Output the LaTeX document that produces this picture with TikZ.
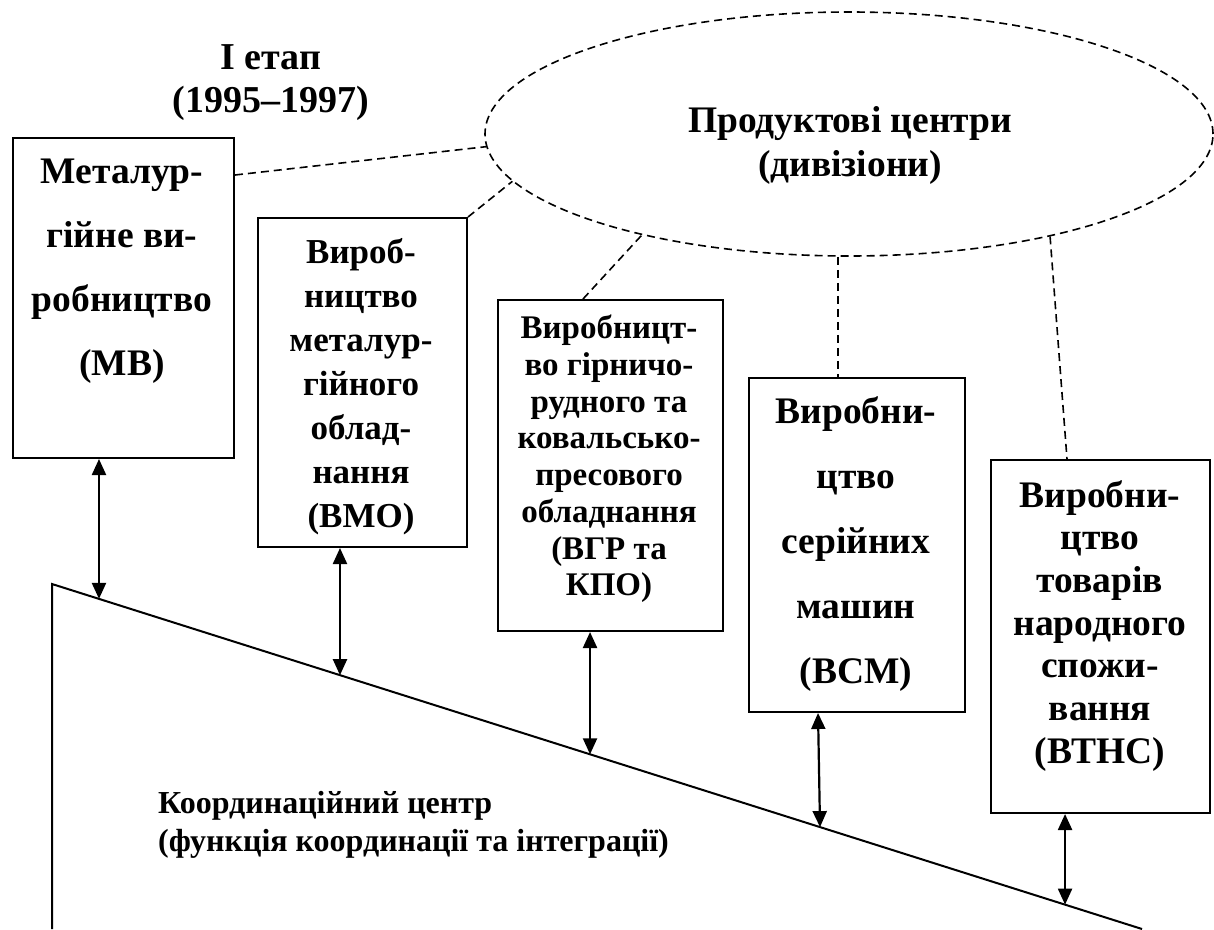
\documentclass[tikz,border=0pt]{standalone}
\usepackage{fontspec}
\setmainfont{Liberation Serif}
\usetikzlibrary{arrows.meta,shapes.geometric,calc}

\begin{document}
\begin{tikzpicture}[x=1pt,y=-1pt,
  box/.style={draw,line width=2pt,inner sep=0pt,anchor=north west},
  lbl/.style={align=center,inner sep=0pt,anchor=north},
  link/.style={line width=1.6pt,dash pattern=on 8pt off 5pt},
  twoway/.style={line width=2.2pt,{Triangle[length=16pt,width=14pt]}-{Triangle[length=16pt,width=14pt]}},
]
\useasboundingbox (0,0) rectangle (1214,929);

% stage title
\node[lbl,font=\bfseries\fontsize{38}{43}\selectfont] (stage) at (271,44) {І етап\\(1995–1997)};

% product centres (divisions)
\node[draw,ellipse,line width=1.6pt,dash pattern=on 8pt off 5pt,
      minimum width=728pt,minimum height=244pt,inner sep=0pt] (pc) at (849,134) {};
\node[lbl,font=\bfseries\fontsize{37.5}{44}\selectfont] (pct) at (850,106) {Продуктові центри\\(дивізіони)};

% divisions
\node[box,minimum width=221pt,minimum height=320pt] (b1) at (12,137) {};
\node[box,minimum width=209pt,minimum height=329pt] (b2) at (257,217) {};
\node[box,minimum width=225pt,minimum height=331pt] (b3) at (497,299) {};
\node[box,minimum width=216pt,minimum height=334pt] (b4) at (748,377) {};
\node[box,minimum width=219pt,minimum height=353pt] (b5) at (990,459) {};

\node[lbl,font=\bfseries\fontsize{37.5}{64}\selectfont] (t1) at (122,159)
  {Металур-\\гійне ви-\\робництво\\(МВ)};
\node[lbl,font=\bfseries\fontsize{35}{44}\selectfont] (t2) at (361,238)
  {Вироб-\\ництво\\металур-\\гійного\\облад-\\нання\\(ВМО)};
\node[lbl,font=\bfseries\fontsize{33}{36.7}\selectfont] (t3) at (609,315)
  {Виробницт-\\во гірничо-\\рудного та\\ковальсько-\\пресового\\обладнання\\(ВГР та\\КПО)};
\node[lbl,font=\bfseries\fontsize{37.5}{65}\selectfont] (t4) at (856,396)
  {Виробни-\\цтво\\серійних\\машин\\(ВСМ)};
\node[lbl,font=\bfseries\fontsize{37.5}{42.7}\selectfont] (t5) at (1100,480)
  {Виробни-\\цтво\\товарів\\народного\\спожи-\\вання\\(ВТНС)};

% coordination centre
\coordinate (ctop) at (52,584);
\coordinate (cend) at (1142,929);
\draw[line width=2pt] (52,929) -- (ctop) -- (cend);
\node[align=left,inner sep=0pt,anchor=north west,font=\bfseries\fontsize{32}{38}\selectfont] (cc) at (158,791)
  {Координаційний центр\\(функція координації та інтеграції)};

% dashed links to the product centres
\draw[link] ($(b1.north east)+(0,38)$) -- (pc.182);
\draw[link] (b2.north east) -- (pc.188);
\draw[link] ($(b3.north west)+(86,0)$) -- (pc.206);
\coordinate (e4) at ($(pc.south)+(-11,0)$);
\draw[link] (e4) -- (e4 |- b4.north);
\draw[link] (pc.333) -- ($(b5.north west)+(77,0)$);

% two-way links to the coordination centre
\coordinate (s1) at ($(ctop)!0.0431!(cend)$);
\coordinate (s2) at ($(ctop)!0.2642!(cend)$);
\coordinate (s3) at ($(ctop)!0.4936!(cend)$);
\coordinate (s4) at ($(ctop)!0.7046!(cend)$);
\coordinate (s5) at ($(ctop)!0.9294!(cend)$);
\draw[twoway] (s1 |- b1.south) -- (s1);
\draw[twoway] (s2 |- b2.south) -- (s2);
\draw[twoway] (s3 |- b3.south) -- (s3);
\draw[twoway] ($(s4 |- b4.south)+(-2,0)$) -- (s4);
\draw[twoway] (s5 |- b5.south) -- (s5);
\end{tikzpicture}
\end{document}
